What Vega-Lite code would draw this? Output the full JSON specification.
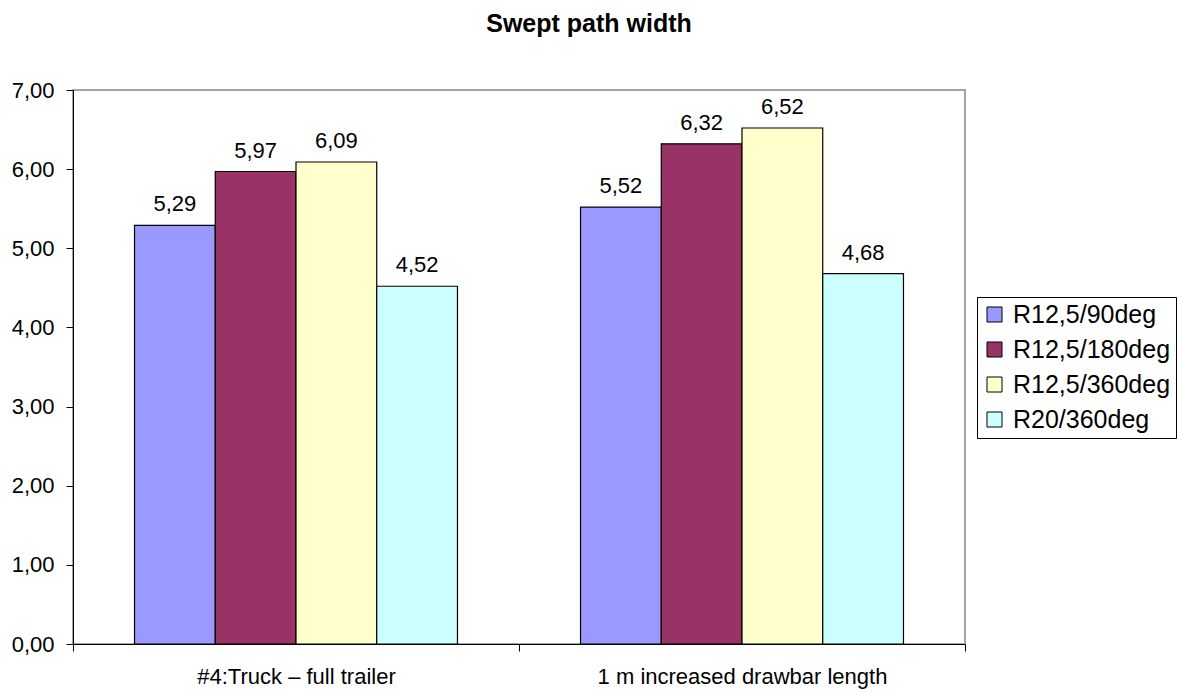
{
  "$schema": "https://vega.github.io/schema/vega-lite/v6.json",
  "width": 892,
  "height": 554,
  "autosize": {"type": "none"},
  "padding": {"left": 73, "top": 90, "right": 213, "bottom": 49},
  "background": "white",
  "title": {
    "text": "Swept path width",
    "font": "Liberation Sans",
    "fontSize": 25,
    "fontWeight": "bold",
    "color": "black",
    "anchor": "middle",
    "offset": 42,
    "dx": 70
  },
  "data": {
    "values": [
      {"group": "#4:Truck – full trailer", "series": "R12,5/90deg", "value": 5.29},
      {"group": "#4:Truck – full trailer", "series": "R12,5/180deg", "value": 5.97},
      {"group": "#4:Truck – full trailer", "series": "R12,5/360deg", "value": 6.09},
      {"group": "#4:Truck – full trailer", "series": "R20/360deg", "value": 4.52},
      {"group": "1 m increased drawbar length", "series": "R12,5/90deg", "value": 5.52},
      {"group": "1 m increased drawbar length", "series": "R12,5/180deg", "value": 6.32},
      {"group": "1 m increased drawbar length", "series": "R12,5/360deg", "value": 6.52},
      {"group": "1 m increased drawbar length", "series": "R20/360deg", "value": 4.68}
    ]
  },
  "encoding": {
    "x": {
      "field": "group",
      "type": "nominal",
      "sort": null,
      "scale": {"paddingInner": 0, "paddingOuter": 0},
      "axis": {
        "title": null,
        "labelAngle": 0,
        "labelFont": "Liberation Sans",
        "labelFontSize": 22,
        "labelColor": "black",
        "labelPadding": 15,
        "labelLimit": 500,
        "tickBand": "extent",
        "tickSize": 7,
        "tickColor": "black",
        "domainColor": "black",
        "grid": false
      }
    },
    "xOffset": {
      "field": "series",
      "type": "nominal",
      "sort": ["R12,5/90deg", "R12,5/180deg", "R12,5/360deg", "R20/360deg"],
      "scale": {"paddingInner": 0, "paddingOuter": 0.762}
    },
    "y": {
      "field": "value",
      "type": "quantitative",
      "scale": {"domain": [0, 7], "nice": false},
      "axis": {
        "title": null,
        "values": [0, 1, 2, 3, 4, 5, 6, 7],
        "format": ".2f",
        "labelFont": "Liberation Sans",
        "labelFontSize": 22,
        "labelColor": "black",
        "labelPadding": 12,
        "tickSize": 7,
        "tickColor": "black",
        "domainColor": "black",
        "grid": false
      }
    }
  },
  "layer": [
    {
      "mark": {"type": "bar", "stroke": "black", "strokeWidth": 1.2},
      "encoding": {
        "color": {
          "field": "series",
          "type": "nominal",
          "sort": ["R12,5/90deg", "R12,5/180deg", "R12,5/360deg", "R20/360deg"],
          "scale": {
            "domain": ["R12,5/90deg", "R12,5/180deg", "R12,5/360deg", "R20/360deg"],
            "range": ["#9999FF", "#993366", "#FFFFCC", "#CCFFFF"]
          },
          "legend": {
            "title": null,
            "orient": "none",
            "legendX": 904,
            "legendY": 207,
            "direction": "vertical",
            "strokeColor": "black",
            "fillColor": "white",
            "padding": 5,
            "symbolType": "square",
            "symbolSize": 225,
            "symbolStrokeColor": "black",
            "symbolStrokeWidth": 1,
            "symbolOpacity": 1,
            "labelFont": "Liberation Sans",
            "labelFontSize": 25,
            "labelColor": "black",
            "labelOffset": 6,
            "labelLimit": 300,
            "rowPadding": 9
          }
        }
      }
    },
    {
      "mark": {
        "type": "text",
        "baseline": "alphabetic",
        "dy": -14,
        "font": "Liberation Sans",
        "fontSize": 22,
        "color": "black"
      },
      "encoding": {
        "text": {"field": "value", "type": "quantitative", "format": ".2f"}
      }
    }
  ],
  "config": {
    "locale": {
      "number": {"decimal": ",", "thousands": ".", "grouping": [3], "currency": ["", " €"]}
    },
    "view": {"stroke": "#888888", "strokeWidth": 1.5}
  }
}
